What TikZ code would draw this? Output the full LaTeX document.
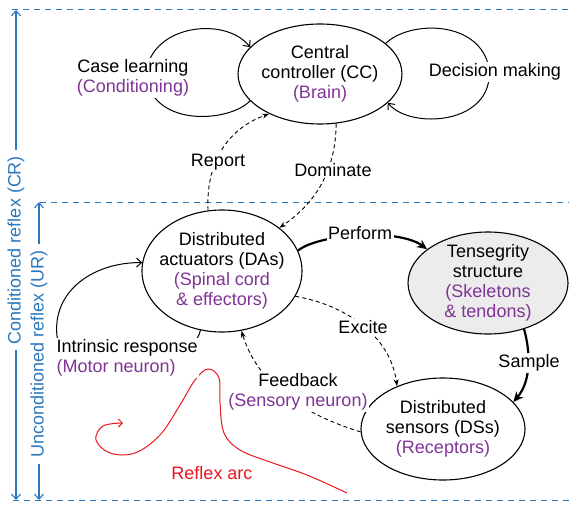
\documentclass[tikz,border=0pt]{standalone}
\usepackage{fontspec}
\setmainfont{Liberation Sans}
\usetikzlibrary{arrows.meta,shapes.geometric}
\definecolor{purp}{RGB}{128,52,150}
\definecolor{lblue}{RGB}{44,120,190}
\definecolor{arcred}{RGB}{232,22,30}
\definecolor{tsgray}{RGB}{236,236,236}
\begin{document}
\begin{tikzpicture}[x=1pt,y=-1pt,
  every node/.style={font=\fontsize{18}{20}\selectfont},
  bubble/.style={ellipse, draw, line width=1.1pt, align=center, inner sep=-15pt},
  lbl/.style={fill=white, align=center, inner sep=1.5pt},
  dashconn/.style={dash pattern=on 4pt off 3pt, line width=0.9pt, -{Stealth[length=7pt,width=5pt]}},
  loopconn/.style={line width=1pt, -{Straight Barb[length=5pt,width=9pt]}},
  thickconn/.style={line width=2.2pt, -{Stealth[length=10pt,width=9pt,inset=3pt]}},
  bluedash/.style={lblue, line width=1pt, dash pattern=on 6pt off 5pt},
  bluearr/.style={lblue, line width=1.1pt, -{Straight Barb[length=5pt,width=9pt]}},
  sidelbl/.style={lblue, rotate=90, inner sep=6pt}
]
\useasboundingbox (0,0) rectangle (569,505);

% frame lines
\draw[bluedash] (12,10) -- (569,10);
\draw[bluedash] (40,202) -- (569,202);
\draw[bluedash] (13,500) -- (569,500);

% side annotations
\node[sidelbl] (crlab) at (16,250) {Conditioned reflex (CR)};
\node[sidelbl] (urlab) at (39,354) {Unconditioned reflex (UR)};
\coordinate (crtop) at (16,10);
\coordinate (crbot) at (16,500);
\coordinate (urtop) at (39,202);
\coordinate (urbot) at (39,500);
\draw[bluearr] (crlab.east) -- (crtop);
\draw[bluearr] (crlab.west) -- (crbot);
\draw[bluearr] (urlab.east) -- (urtop);
\draw[bluearr] (urlab.west) -- (urbot);

% main nodes
\node[bubble, minimum width=164pt, minimum height=100pt] (CC) at (320,74)
  {Central\\controller (CC)\\\textcolor{purp}{(Brain)}};
\node[bubble, minimum width=160pt, minimum height=122pt] (DA) at (222,271)
  {Distributed\\actuators (DAs)\\\textcolor{purp}{(Spinal cord}\\\textcolor{purp}{\& effectors)}};
\node[bubble, fill=tsgray, minimum width=160pt, minimum height=102pt] (TS) at (488,283)
  {Tensegrity\\structure\\\textcolor{purp}{(Skeletons}\\\textcolor{purp}{\& tendons)}};
\node[bubble, minimum width=164pt, minimum height=102pt] (DS) at (443,429)
  {Distributed\\sensors (DSs)\\\textcolor{purp}{(Receptors)}};

% loops around the central controller
\draw[loopconn] (CC.201) .. controls (230,122) and (155,128) .. (146,78)
  .. controls (146,25) and (225,15) .. (CC.159);
\draw[loopconn] (CC.25) .. controls (410,20) and (480,20) .. (489,68)
  .. controls (495,125) and (410,130) .. (CC.337);

% connectors
\draw[dashconn] (DA.103) .. controls (206,165) and (225,130) .. (CC.218);
\draw[dashconn] (CC.288) .. controls (336,165) and (320,200) .. (DA.37);
\draw[thickconn] (DA.15) .. controls (318,234) and (398,228) .. (TS.151);
\draw[thickconn] (TS.308) .. controls (530,350) and (532,380) .. (DS.21);
\draw[dashconn] (DA.341) .. controls (345,305) and (390,335) .. (DS.137);
\draw[dashconn] (DS.182) .. controls (305,415) and (258,385) .. (DA.288);
\draw[loopconn] (DA.250) .. controls (192,372) and (62,372) .. (57,336)
  .. controls (52,290) and (95,262) .. (DA.174);

% reflex arc
\draw[arcred, line width=1pt, -{Straight Barb[length=4pt,width=8pt]}]
  plot[smooth, tension=0.6] coordinates {(347,493) (307,475) (270,462) (240,450) (224,433) (220,403) (219,378) (208,369) (195,380) (180,405) (160,435) (135,453) (110,453) (96,440) (103,426) (123,423)};

% labels
\node[lbl] (caselbl) at (133,78) {Case learning\\\textcolor{purp}{(Conditioning)}};
\node[lbl] (declbl) at (495,72) {Decision making};
\node[lbl] (replbl) at (218,162) {Report};
\node[lbl] (domlbl) at (333,170) {Dominate};
\node[lbl] (perflbl) at (360,233) {Perform};
\node[lbl] (samplbl) at (529,363) {Sample};
\node[lbl] (exclbl) at (363,327) {Excite};
\node[lbl] (fblbl) at (298,392) {Feedback\\\textcolor{purp}{(Sensory neuron)}};
\node[lbl, align=left, anchor=west] (intlbl) at (55,358) {Intrinsic response\\\textcolor{purp}{(Motor neuron)}};
\node[arcred] (arclbl) at (212,473) {Reflex arc};
\end{tikzpicture}
\end{document}
